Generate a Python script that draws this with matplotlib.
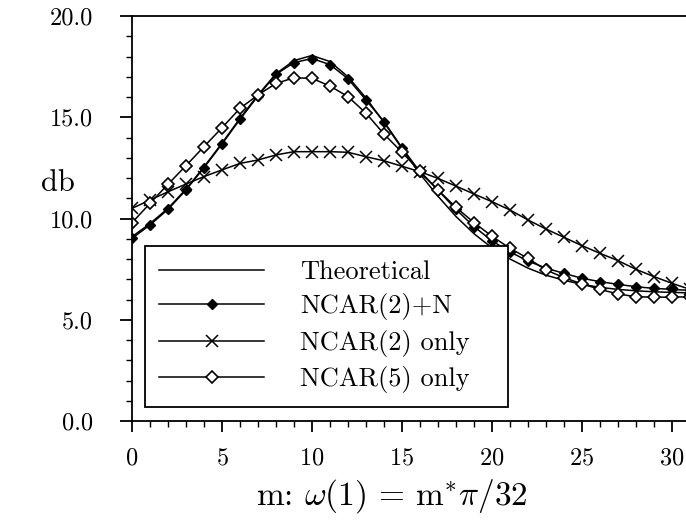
import numpy as np
import matplotlib
matplotlib.use("Agg")
import matplotlib.pyplot as plt
from matplotlib.ticker import MultipleLocator, FormatStrFormatter

plt.rcParams["font.family"] = "cmr10"
plt.rcParams["mathtext.fontset"] = "cm"
plt.rcParams["axes.formatter.use_mathtext"] = True

m = np.arange(0, 32)

theoretical = [9.1, 9.75, 10.5, 11.45, 12.55, 13.72, 14.95, 16.1, 17.15, 17.8,
               18.05, 17.75, 17.0, 15.95, 14.75, 13.45, 12.2, 11.1, 10.1, 9.25,
               8.55, 8.0, 7.55, 7.2, 6.95, 6.75, 6.6, 6.5, 6.43, 6.38, 6.35, 6.33]
ncar2_n = [9.02, 9.68, 10.45, 11.41, 12.51, 13.68, 14.9, 16.05, 17.12, 17.7,
           17.9, 17.6, 16.9, 15.85, 14.78, 13.5, 12.3, 11.4, 10.45, 9.6,
           8.9, 8.35, 7.9, 7.55, 7.29, 7.05, 6.88, 6.75, 6.63, 6.55, 6.5, 6.45]
ncar2_only = [10.5, 10.91, 11.32, 11.7, 12.07, 12.4, 12.72, 12.89, 13.14, 13.3,
              13.3, 13.3, 13.27, 13.05, 12.85, 12.58, 12.31, 11.98, 11.6, 11.21,
              10.83, 10.42, 9.93, 9.48, 9.07, 8.66, 8.28, 7.92, 7.49, 7.13, 6.8, 6.5]
ncar5_only = [9.79, 10.75, 11.69, 12.61, 13.55, 14.48, 15.44, 16.1, 16.67, 16.95,
              16.92, 16.54, 16.02, 15.2, 14.17, 13.27, 12.33, 11.41, 10.55, 9.8,
              9.12, 8.53, 8.03, 7.46, 7.08, 6.77, 6.5, 6.27, 6.14, 6.11, 6.12, 6.13]

labels = ["Theoretical", "NCAR(2)+N", "NCAR(2) only", "NCAR(5) only"]

fig = plt.figure(figsize=(6.86, 5.26), dpi=100)
ax = fig.add_axes([132 / 686, 1 - 421 / 526, 554 / 686, 405 / 526])

lw = 1.1
ax.plot(m, theoretical, color="black", lw=lw, label=labels[0])
ax.plot(m, ncar2_n, color="black", lw=lw, marker="D", ms=5.5,
        mfc="black", mec="black", label=labels[1])
ax.plot(m, ncar2_only, color="black", lw=lw, marker="x", ms=8, mew=1.1,
        label=labels[2])
ax.plot(m, ncar5_only, color="black", lw=lw, marker="D", ms=6,
        mfc="white", mec="black", mew=1.2, label=labels[3])

ax.set_xlim(0, 30.78)
ax.set_ylim(0, 20)
ax.xaxis.set_major_locator(MultipleLocator(5))
ax.xaxis.set_minor_locator(MultipleLocator(1))
ax.yaxis.set_major_locator(MultipleLocator(5))
ax.yaxis.set_minor_locator(MultipleLocator(1))
ax.yaxis.set_major_formatter(FormatStrFormatter("%.1f"))

for s in ["left", "bottom", "top"]:
    ax.spines[s].set_linewidth(1.3)
ax.spines["right"].set_visible(False)

ax.tick_params(axis="both", which="major", direction="out", width=1.3,
               labelsize=17.5)
ax.tick_params(axis="x", which="major", length=8, pad=11)
ax.tick_params(axis="x", which="minor", length=4, width=1.0)
ax.tick_params(axis="y", which="major", length=9, pad=19)
ax.tick_params(axis="y", which="minor", length=4, width=1.0)

ax.set_xlabel(r"m: $\omega(1)$ = m$^{*}\pi/32$", fontsize=24, va="center")
ax.xaxis.set_label_coords(0.469, -0.186)
ax.set_ylabel("db", fontsize=22, rotation=0, va="center", ha="center")
ax.yaxis.set_label_coords(-0.134, 0.588)

leg = ax.legend(loc="lower left", bbox_to_anchor=(0.0235, 0.0346, 0.656, 0.43),
                mode="expand", borderaxespad=0, fontsize=19, numpoints=1,
                handlelength=4.0, handletextpad=1.36, labelspacing=0.36,
                borderpad=0.52, fancybox=False, framealpha=1)
leg.get_frame().set_edgecolor("black")
leg.get_frame().set_linewidth(1.3)

fig.savefig("out.png", dpi=100)
